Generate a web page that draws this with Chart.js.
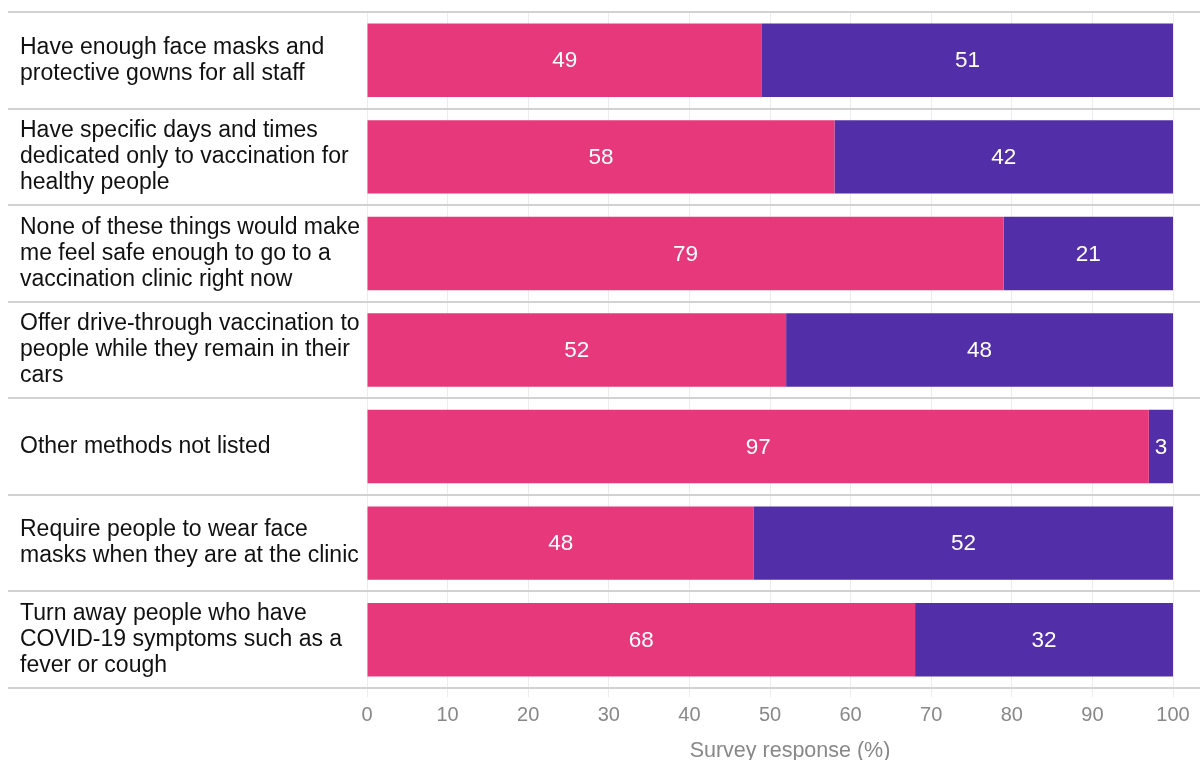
<!DOCTYPE html>
<html><head><meta charset="utf-8">
<script src="https://cdn.jsdelivr.net/npm/chart.js@4/dist/chart.umd.min.js"></script>
<style>html,body{margin:0;padding:0;background:#fff}#wrap{width:1200px;height:760px}</style>
</head><body><div id="wrap"><canvas id="c" width="1200" height="760"></canvas></div>
<script>
const categories = [
  ["Have enough face masks and", "protective gowns for all staff"],
  ["Have specific days and times", "dedicated only to vaccination for", "healthy people"],
  ["None of these things would make", "me feel safe enough to go to a", "vaccination clinic right now"],
  ["Offer drive-through vaccination to", "people while they remain in their", "cars"],
  ["Other methods not listed"],
  ["Require people to wear face", "masks when they are at the clinic"],
  ["Turn away people who have", "COVID-19 symptoms such as a", "fever or cough"]
];
const seriesA = [49, 58, 79, 52, 97, 48, 68];
const seriesB = [51, 42, 21, 48, 3, 52, 32];
const xTicks = [0, 10, 20, 30, 40, 50, 60, 70, 80, 90, 100];
const axisTitle = "Survey response (%)";

const FONT = "'Liberation Sans', Arial, Helvetica, sans-serif";

const separators = {
  id: 'separators',
  beforeDatasetsDraw(chart) {
    const ctx = chart.ctx, y = chart.scales.y;
    ctx.save();
    ctx.strokeStyle = '#d2d2d2';
    ctx.lineWidth = 2;
    for (let i = 0; i <= categories.length; i++) {
      const py = Math.round(y.getPixelForValue(i - 0.5));
      ctx.beginPath();
      ctx.moveTo(8, py);
      ctx.lineTo(chart.width, py);
      ctx.stroke();
    }
    ctx.restore();
  }
};

const valueLabels = {
  id: 'valueLabels',
  afterDatasetsDraw(chart) {
    const ctx = chart.ctx;
    ctx.save();
    ctx.font = '22.5px ' + FONT;
    ctx.fillStyle = '#ffffff';
    ctx.textAlign = 'center';
    ctx.textBaseline = 'middle';
    chart.data.datasets.forEach((ds, di) => {
      const meta = chart.getDatasetMeta(di);
      meta.data.forEach((el, i) => {
        const cx = (el.x + el.base) / 2;
        ctx.fillText(String(ds.data[i]), cx, el.y + 1);
      });
    });
    ctx.restore();
  }
};

const xTitle = {
  id: 'xTitle',
  afterDraw(chart) {
    const ctx = chart.ctx, a = chart.chartArea;
    ctx.save();
    ctx.font = '21.5px ' + FONT;
    ctx.fillStyle = '#888888';
    ctx.textAlign = 'center';
    ctx.textBaseline = 'middle';
    ctx.fillText(axisTitle, (a.left + a.right) / 2 + 20, 751);
    ctx.restore();
  }
};

new Chart(document.getElementById('c'), {
  type: 'bar',
  data: {
    labels: categories,
    datasets: [
      { data: seriesA, backgroundColor: '#E6387A', borderWidth: 0, barPercentage: 0.76, categoryPercentage: 1 },
      { data: seriesB, backgroundColor: '#522EA8', borderWidth: 0, barPercentage: 0.76, categoryPercentage: 1 }
    ]
  },
  options: {
    indexAxis: 'y',
    responsive: false,
    animation: false,
    layout: { padding: { left: 20, right: 27, top: 12, bottom: 27 } },
    plugins: { legend: { display: false }, tooltip: { enabled: false } },
    scales: {
      x: {
        stacked: true,
        min: 0, max: 100,
        afterBuildTicks(s) { s.ticks = xTicks.map(v => ({ value: v })); },
        grid: { color: '#ececec', lineWidth: 1, tickLength: 9, drawTicks: true },
        border: { display: false },
        ticks: { color: '#888888', font: { size: 20, family: FONT }, padding: 6 }
      },
      y: {
        stacked: true,
        afterFit(s) { s.width = 347; s.paddingTop = 0; s.paddingBottom = 0; },
        grid: { display: false },
        border: { display: false },
        ticks: {
          crossAlign: 'far',
          color: '#111111',
          font: { size: 23, family: FONT, lineHeight: '26px' },
          padding: 4
        }
      }
    }
  },
  plugins: [separators, valueLabels, xTitle]
});
</script>
</body></html>
